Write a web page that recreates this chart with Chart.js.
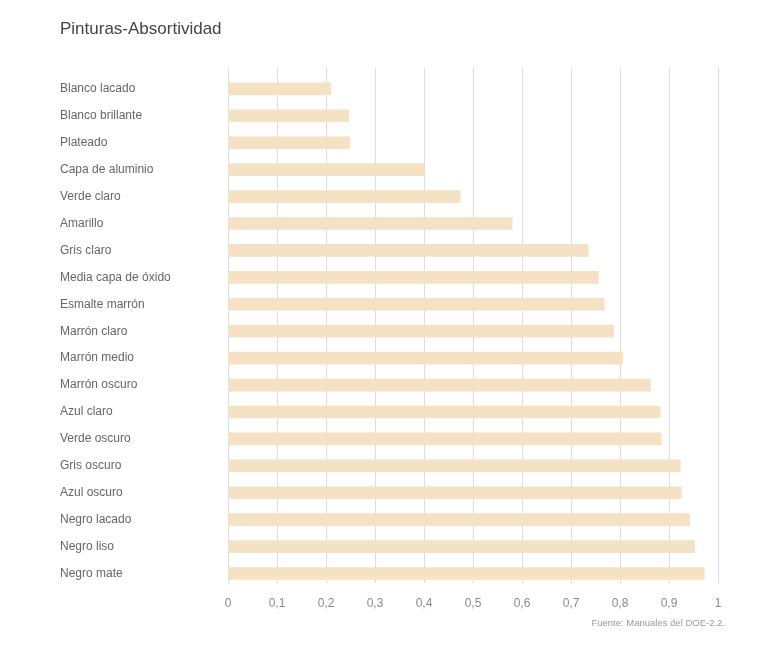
<!DOCTYPE html>
<html>
<head>
<meta charset="utf-8">
<script src="https://cdn.jsdelivr.net/npm/chart.js@4"></script>
<style>
  html, body { margin: 0; padding: 0; background: #fff; }
  #wrap { position: relative; width: 764px; height: 648px; }
  #fuente {
    position: absolute; right: 39px; top: 617px;
    font: 9.5px 'Liberation Sans', Helvetica, Arial, sans-serif;
    color: #9a9a9a;
  }
</style>
</head>
<body>
<div id="wrap">
  <canvas id="absortividad-chart"></canvas>
  <div id="fuente">Fuente: Manuales del DOE-2.2.</div>
</div>
<script>
const categories = [
  "Blanco lacado", "Blanco brillante", "Plateado", "Capa de aluminio",
  "Verde claro", "Amarillo", "Gris claro", "Media capa de óxido",
  "Esmalte marrón", "Marrón claro", "Marrón medio", "Marrón oscuro",
  "Azul claro", "Verde oscuro", "Gris oscuro", "Azul oscuro",
  "Negro lacado", "Negro liso", "Negro mate"
];
const absortividad = [
  0.21, 0.246, 0.248, 0.40,
  0.474, 0.58, 0.735, 0.756,
  0.768, 0.787, 0.805, 0.862,
  0.882, 0.884, 0.923, 0.925,
  0.942, 0.952, 0.972
];
const xTicks = [0, 0.1, 0.2, 0.3, 0.4, 0.5, 0.6, 0.7, 0.8, 0.9, 1];

const fontFamily = "'Liberation Sans', Helvetica, Arial, sans-serif";

// lineas verticales un poco mas largas que el area de barras
const gridPlugin = {
  id: "vgrid",
  beforeDatasetsDraw(chart) {
    const ctx = chart.ctx;
    const x = chart.scales.x;
    const area = chart.chartArea;
    ctx.save();
    ctx.strokeStyle = "#dddddd";
    ctx.lineWidth = 1;
    xTicks.forEach(function (v) {
      const px = Math.round(x.getPixelForValue(v)) + 0.5;
      ctx.beginPath();
      ctx.moveTo(px, area.top - 8);
      ctx.lineTo(px, area.bottom - 4);
      ctx.stroke();
    });
    ctx.restore();
  }
};

const ctx = document.getElementById("absortividad-chart");
const myChart = new Chart(ctx, {
  type: "bar",
  data: {
    labels: categories,
    datasets: [{
      label: "Absortividad",
      data: absortividad,
      backgroundColor: "rgb(245, 225, 196)",
      barThickness: 12,
    }],
  },
  options: {
    indexAxis: "y",
    responsive: true,
    maintainAspectRatio: false,
    animation: false,
    layout: { padding: { left: 60, right: 46, top: 0, bottom: 37 } },
    plugins: {
      legend: { display: false },
      tooltip: { enabled: false },
      title: {
        display: true,
        text: "Pinturas-Absortividad",
        align: "start",
        color: "#444444",
        font: { family: fontFamily, size: 17, weight: "normal" },
        padding: { top: 19, bottom: 36 },
      },
    },
    scales: {
      x: {
        min: 0,
        max: 1,
        grid: { display: false, drawTicks: false },
        border: { display: false },
        afterBuildTicks(scale) {
          scale.ticks = xTicks.map(v => ({ value: v }));
        },
        afterFit(scale) { scale.height = 24; },
        ticks: {
          padding: 9,
          color: "#8a8a8a",
          font: { family: fontFamily, size: 12 },
          callback: v => Number(v.toFixed(1)).toString().replace(".", ","),
        },
      },
      y: {
        grid: { display: false, drawTicks: false },
        border: { display: false },
        afterFit(scale) { scale.width = 168; },
        ticks: {
          crossAlign: "far",
          color: "#666666",
          font: { family: fontFamily, size: 12 },
        },
      },
    },
  },
  plugins: [gridPlugin],
});
</script>
</body>
</html>
